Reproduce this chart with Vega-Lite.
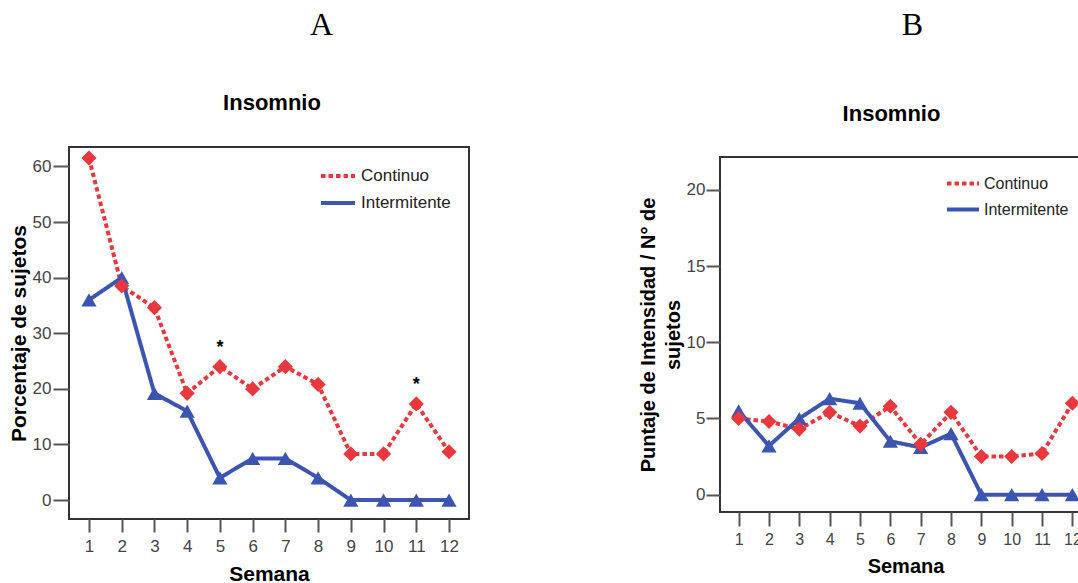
{
  "$schema": "https://vega.github.io/schema/vega-lite/v6.json",
  "padding": {"left": 7, "top": 9, "right": 0, "bottom": 0},
  "background": "#ffffff",
  "datasets": {
    "A": [
      {"week": 1, "series": "Continuo", "value": 61.5, "sig": ""},
      {"week": 2, "series": "Continuo", "value": 38.5, "sig": ""},
      {"week": 3, "series": "Continuo", "value": 34.6, "sig": ""},
      {"week": 4, "series": "Continuo", "value": 19.2, "sig": ""},
      {"week": 5, "series": "Continuo", "value": 24.0, "sig": "*"},
      {"week": 6, "series": "Continuo", "value": 20.0, "sig": ""},
      {"week": 7, "series": "Continuo", "value": 24.0, "sig": ""},
      {"week": 8, "series": "Continuo", "value": 20.8, "sig": ""},
      {"week": 9, "series": "Continuo", "value": 8.3, "sig": ""},
      {"week": 10, "series": "Continuo", "value": 8.3, "sig": ""},
      {"week": 11, "series": "Continuo", "value": 17.3, "sig": "*"},
      {"week": 12, "series": "Continuo", "value": 8.7, "sig": ""},
      {"week": 1, "series": "Intermitente", "value": 36.0, "sig": ""},
      {"week": 2, "series": "Intermitente", "value": 40.0, "sig": ""},
      {"week": 3, "series": "Intermitente", "value": 19.2, "sig": ""},
      {"week": 4, "series": "Intermitente", "value": 16.0, "sig": ""},
      {"week": 5, "series": "Intermitente", "value": 4.0, "sig": ""},
      {"week": 6, "series": "Intermitente", "value": 7.5, "sig": ""},
      {"week": 7, "series": "Intermitente", "value": 7.5, "sig": ""},
      {"week": 8, "series": "Intermitente", "value": 4.0, "sig": ""},
      {"week": 9, "series": "Intermitente", "value": 0, "sig": ""},
      {"week": 10, "series": "Intermitente", "value": 0, "sig": ""},
      {"week": 11, "series": "Intermitente", "value": 0, "sig": ""},
      {"week": 12, "series": "Intermitente", "value": 0, "sig": ""}
    ],
    "B": [
      {"week": 1, "series": "Continuo", "value": 5.0},
      {"week": 2, "series": "Continuo", "value": 4.8},
      {"week": 3, "series": "Continuo", "value": 4.3},
      {"week": 4, "series": "Continuo", "value": 5.4},
      {"week": 5, "series": "Continuo", "value": 4.5},
      {"week": 6, "series": "Continuo", "value": 5.8},
      {"week": 7, "series": "Continuo", "value": 3.3},
      {"week": 8, "series": "Continuo", "value": 5.4},
      {"week": 9, "series": "Continuo", "value": 2.5},
      {"week": 10, "series": "Continuo", "value": 2.5},
      {"week": 11, "series": "Continuo", "value": 2.7},
      {"week": 12, "series": "Continuo", "value": 6.0},
      {"week": 1, "series": "Intermitente", "value": 5.5},
      {"week": 2, "series": "Intermitente", "value": 3.2},
      {"week": 3, "series": "Intermitente", "value": 5.0},
      {"week": 4, "series": "Intermitente", "value": 6.3},
      {"week": 5, "series": "Intermitente", "value": 6.0},
      {"week": 6, "series": "Intermitente", "value": 3.5},
      {"week": 7, "series": "Intermitente", "value": 3.1},
      {"week": 8, "series": "Intermitente", "value": 4.0},
      {"week": 9, "series": "Intermitente", "value": 0},
      {"week": 10, "series": "Intermitente", "value": 0},
      {"week": 11, "series": "Intermitente", "value": 0},
      {"week": 12, "series": "Intermitente", "value": 0}
    ]
  },
  "spacing": 167,
  "hconcat": [
    {
      "title": {"text": "A", "font": "Liberation Serif", "fontSize": 32, "fontWeight": "normal", "color": "#000000", "anchor": "middle", "dx": 83, "offset": 49},
      "vconcat": [
        {
          "width": 400,
          "height": 372,
          "title": {"text": "Insomnio", "font": "Liberation Sans", "fontSize": 22, "fontWeight": "bold", "color": "#000000", "anchor": "middle", "frame": "group", "dx": 3, "offset": 32},
          "data": {"name": "A"},
          "encoding": {
            "x": {"field": "week", "type": "quantitative",
                  "scale": {"domain": [0.39, 12.61], "nice": false, "zero": false},
                  "axis": {"values": [1,2,3,4,5,6,7,8,9,10,11,12], "format": "d", "title": "Semana", "tickSize": 13, "labelFontSize": 17, "labelPadding": 6, "titleFontSize": 21, "titlePadding": 9}},
            "y": {"field": "value", "type": "quantitative",
                  "scale": {"domain": [-3.4, 63.5], "nice": false, "zero": false},
                  "axis": {"values": [0,10,20,30,40,50,60], "format": "d", "title": "Porcentaje de sujetos", "tickSize": 16, "labelFontSize": 17, "labelPadding": 2, "titleFontSize": 21, "titlePadding": 3}}
          },
          "layer": [
            {
              "mark": {"type": "line", "strokeWidth": 4},
              "encoding": {
                "color": {"field": "series", "type": "nominal",
                          "scale": {"domain": ["Continuo", "Intermitente"], "range": ["#e8383d", "#3d55b2"]},
                          "legend": {"title": null, "orient": "none", "legendX": 250, "legendY": 10, "symbolType": "stroke", "symbolSize": 1156, "symbolStrokeWidth": 4, "labelFontSize": 17, "labelFont": "Liberation Sans", "labelColor": "#222222", "labelOffset": 4, "rowPadding": -7}},
                "strokeDash": {"field": "series", "type": "nominal",
                               "scale": {"domain": ["Continuo", "Intermitente"], "range": [[4.5, 3], [1, 0]]},
                               "legend": {"title": null, "orient": "none", "legendX": 250, "legendY": 10, "symbolType": "stroke", "symbolSize": 1156, "symbolStrokeWidth": 4, "labelFontSize": 17, "labelFont": "Liberation Sans", "labelColor": "#222222", "labelOffset": 4, "rowPadding": -7}}
              }
            },
            {
              "transform": [{"filter": "datum.series === 'Intermitente'"}],
              "mark": {"type": "point", "filled": true, "shape": "triangle-up", "size": 230, "opacity": 1, "strokeWidth": 0, "color": "#3d55b2"}
            },
            {
              "transform": [{"filter": "datum.series === 'Continuo'"}],
              "mark": {"type": "point", "filled": true, "shape": "diamond", "size": 230, "opacity": 1, "strokeWidth": 0, "color": "#e8383d"}
            },
            {
              "transform": [{"filter": "datum.sig !== ''"}],
              "mark": {"type": "text", "dy": -19, "fontSize": 18, "font": "Liberation Sans", "fontWeight": "bold", "color": "#000000"},
              "encoding": {"text": {"field": "sig"}}
            }
          ]
        }
      ]
    },
    {
      "title": {"text": "B", "font": "Liberation Serif", "fontSize": 32, "fontWeight": "normal", "color": "#000000", "anchor": "middle", "dx": 48, "offset": 61},
      "spacing": 8,
      "vconcat": [
        {
          "width": 371,
          "height": 1,
          "data": {"values": []},
          "mark": "point",
          "view": {"stroke": null},
          "title": {"text": "Insomnio", "font": "Liberation Sans", "fontSize": 22, "fontWeight": "bold", "color": "#000000", "anchor": "middle", "frame": "group", "dx": -14, "offset": 21}
        },
        {
          "width": 371,
          "height": 355,
          "data": {"name": "B"},
          "encoding": {
            "x": {"field": "week", "type": "quantitative",
                  "scale": {"domain": [0.386, 12.614], "nice": false, "zero": false},
                  "axis": {"values": [1,2,3,4,5,6,7,8,9,10,11,12], "format": "d", "title": "Semana", "tickSize": 14, "labelFontSize": 16, "labelPadding": 5, "titleFontSize": 20, "titlePadding": 9}},
            "y": {"field": "value", "type": "quantitative",
                  "scale": {"domain": [-1.14, 22.16], "nice": false, "zero": false},
                  "axis": {"values": [0,5,10,15,20], "format": "d", "title": ["Puntaje de Intensidad / N° de", "sujetos"], "tickSize": 14, "labelFontSize": 17, "labelPadding": 1, "titleFontSize": 20, "titleLineHeight": 25, "titlePadding": 3}}
          },
          "layer": [
            {
              "mark": {"type": "line", "strokeWidth": 4},
              "encoding": {
                "color": {"field": "series", "type": "nominal",
                          "scale": {"domain": ["Continuo", "Intermitente"], "range": ["#e8383d", "#3d55b2"]},
                          "legend": {"title": null, "orient": "none", "legendX": 225, "legendY": 18.5, "symbolType": "stroke", "symbolSize": 1024, "symbolStrokeWidth": 4, "labelFontSize": 16, "labelFont": "Liberation Sans", "labelColor": "#222222", "labelOffset": 3, "rowPadding": -6}},
                "strokeDash": {"field": "series", "type": "nominal",
                               "scale": {"domain": ["Continuo", "Intermitente"], "range": [[4.5, 3], [1, 0]]},
                               "legend": {"title": null, "orient": "none", "legendX": 225, "legendY": 18.5, "symbolType": "stroke", "symbolSize": 1024, "symbolStrokeWidth": 4, "labelFontSize": 16, "labelFont": "Liberation Sans", "labelColor": "#222222", "labelOffset": 3, "rowPadding": -6}}
              }
            },
            {
              "transform": [{"filter": "datum.series === 'Intermitente'"}],
              "mark": {"type": "point", "filled": true, "shape": "triangle-up", "size": 230, "opacity": 1, "strokeWidth": 0, "color": "#3d55b2"}
            },
            {
              "transform": [{"filter": "datum.series === 'Continuo'"}],
              "mark": {"type": "point", "filled": true, "shape": "diamond", "size": 230, "opacity": 1, "strokeWidth": 0, "color": "#e8383d"}
            }
          ]
        }
      ]
    }
  ],
  "resolve": {"scale": {"color": "independent", "strokeDash": "independent"}},
  "config": {
    "font": "Liberation Sans",
    "view": {"stroke": "#333333", "strokeWidth": 2},
    "axis": {"domain": false, "grid": false, "tickColor": "#555555", "tickWidth": 2, "labelColor": "#444444", "labelFont": "Liberation Sans", "titleFont": "Liberation Sans", "titleFontWeight": "bold", "titleColor": "#000000"}
  }
}
